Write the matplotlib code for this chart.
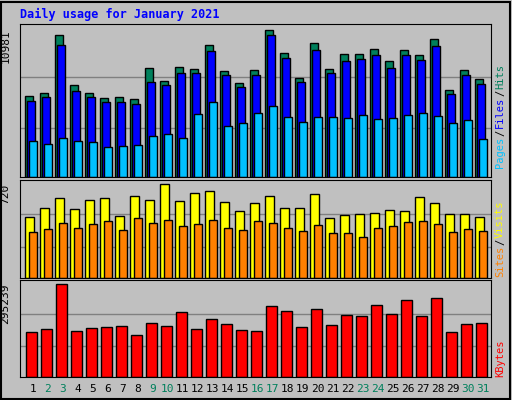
import matplotlib
matplotlib.use("Agg")
import matplotlib.pyplot as plt
from matplotlib.patches import Rectangle

days = list(range(1, 32))
weekend = [2, 3, 9, 10, 16, 17, 23, 24, 30, 31]
hits = [6040, 6290, 10607, 6864, 6290, 5890, 5965, 5815, 8137, 7163, 8211, 8062, 9859, 7912, 7013, 7987,
        10981, 9260, 7388, 10008, 8062, 9185, 9185, 9559, 8661, 9484, 9110, 10308, 6489, 7987, 7313]
files = [5666, 5965, 9859, 6414, 5965, 5591, 5591, 5441, 7088, 6864, 7762, 7762, 9410, 7612, 6714, 7612,
         10607, 8885, 7088, 9484, 7762, 8661, 8810, 9110, 8137, 9110, 8736, 9784, 6190, 7612, 6939]
pages = [2671, 2446, 2895, 2671, 2596, 2221, 2296, 2371, 3045, 3195, 2895, 4692, 5591, 3794, 4018, 4767,
         5291, 4468, 4093, 4468, 4468, 4393, 4617, 4318, 4393, 4617, 4767, 4542, 4018, 4243, 2820]
visits = [470, 540, 618, 532, 603, 618, 477, 634, 603, 720, 595, 657, 665, 587, 517, 579,
          634, 540, 540, 642, 462, 485, 493, 501, 524, 517, 626, 579, 493, 493, 470]
sites = [352, 376, 423, 384, 415, 438, 368, 462, 423, 446, 399, 415, 446, 384, 368, 438,
         423, 384, 360, 407, 344, 344, 313, 384, 399, 430, 438, 415, 352, 376, 360]
kbytes = [143308, 153005, 295239, 146540, 156238, 159470, 162703, 133610, 172400, 162703, 207958, 153005,
          185330, 169168, 149773, 146540, 227353, 211190, 159470, 217655, 165935, 198260, 195028, 230585,
          201493, 246748, 195028, 253213, 143308, 169168, 172400]

W, H = 512, 400
BG = "#C0C0C0"
fig = plt.figure(figsize=(W / 100, H / 100), dpi=100, facecolor=BG)
fig.patches.append(Rectangle((0.002, 0.002), 0.994, 0.994, transform=fig.transFigure,
                             fill=False, edgecolor="black", lw=1.5))
mono = "DejaVu Sans Mono"

def ax_at(top, bottom):
    ax = fig.add_axes([20 / W, 1 - bottom / H, 471 / W, (bottom - top) / H])
    ax.set_facecolor(BG)
    ax.set_xlim(-0.333, 31.07)
    ax.set_xticks([])
    ax.set_yticks([])
    for s in ax.spines.values():
        s.set_color("black")
    return ax

x0 = [d - 1 for d in days]

def grid(ax, m):
    for f in (0.33, 0.68):
        ax.axhline(m * f, color="#808080", lw=1, zorder=0)

ax1 = ax_at(24, 177)
m1 = max(hits)
ax1.set_ylim(0, m1 * 153 / 147)
grid(ax1, m1)
kw = dict(align="edge", edgecolor="black", linewidth=1, zorder=2)
ax1.bar(x0, hits, width=0.51, color="#00805C", **kw)
ax1.bar([x + 0.15 for x in x0], files, width=0.51, color="#0000FF", **kw)
ax1.bar([x + 0.29 for x in x0], pages, width=0.5, color="#00C0FF", **kw)
ax1.text(-0.02, 1 - 5.5 / 153, str(m1), transform=ax1.transAxes, rotation=90, ha="right", va="top",
         family=mono, fontsize=8)

ax2 = ax_at(180, 278)
m2 = max(visits)
ax2.set_ylim(0, m2 * 97 / 92.7)
grid(ax2, m2)
ax2.bar(x0, visits, width=0.58, color="#FFFF00", **kw)
ax2.bar([x + 0.29 for x in x0], sites, width=0.49, color="#FF8000", **kw)
ax2.text(-0.02, 1 - 4 / 98, str(m2), transform=ax2.transAxes, rotation=90, ha="right", va="top",
         family=mono, fontsize=8)

ax3 = ax_at(280, 377)
m3 = max(kbytes)
ax3.set_ylim(0, m3 * 96 / 91.6)
grid(ax3, m3)
ax3.bar([x + 0.07 for x in x0], kbytes, width=0.71, color="#FF0000", **kw)
ax3.text(-0.02, 1 - 4 / 97, str(m3), transform=ax3.transAxes, rotation=90, ha="right", va="top",
         family=mono, fontsize=8)

for d in days:
    ax3.text(d - 1 + 0.53, -12 / 97, str(d), transform=ax3.get_xaxis_transform(), ha="center", va="center",
             family=mono, fontsize=8, color="#00805C" if d in weekend else "black")

fig.text(20 / W, 1 - 14 / H, "Daily usage for January 2021", color="#0000FF", family=mono,
         fontsize=8.5, fontweight="bold", va="center", ha="left")

renderer = fig.canvas.get_renderer()

def right_label(parts, ybottom):
    y = ybottom
    for txt, col in parts:
        t = fig.text(500 / W, 1 - y / H, txt, rotation=90, color=col, family=mono, fontsize=7.5,
                     ha="center", va="bottom")
        bb = t.get_window_extent(renderer)
        y -= bb.height + 1

right_label([("Pages", "#00C0FF"), ("/", "black"), ("Files", "#0000FF"), ("/", "black"),
             ("Hits", "#00805C")], 168)
right_label([("Sites", "#FF8000"), ("/", "black"), ("Visits", "#FFFF00")], 277)
right_label([("KBytes", "#FF0000")], 377)

fig.savefig("out.png", dpi=100, facecolor=BG)
